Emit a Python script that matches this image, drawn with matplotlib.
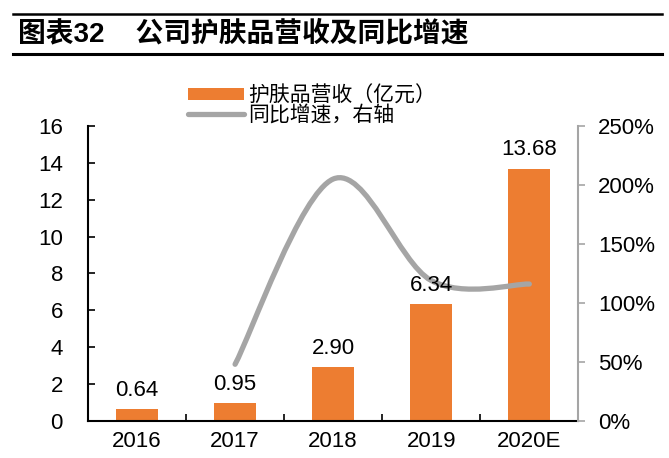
import matplotlib
matplotlib.use("Agg")
import matplotlib.pyplot as plt
from matplotlib.lines import Line2D
from matplotlib.path import Path
from matplotlib.patches import PathPatch, Patch
from matplotlib.ticker import FuncFormatter, FixedLocator
import numpy as np

plt.rcParams['font.family'] = ['Liberation Sans', 'Noto Sans CJK SC']

years = ["2016", "2017", "2018", "2019", "2020E"]
revenue = [0.64, 0.95, 2.90, 6.34, 13.68]
growth = [None, 48, 205, 119, 116]   # %, right axis
bar_labels = ["0.64", "0.95", "2.90", "6.34", "13.68"]

ORANGE = "#ED7D31"
GRAY = "#A5A5A5"

fig = plt.figure(figsize=(6.69, 4.58), dpi=100)
ax = fig.add_axes([0.1315, 0.081, 0.733, 0.644])
ax2 = ax.twinx()

x = np.arange(len(years))
bars = ax.bar(x, revenue, width=0.43, color=ORANGE, zorder=2)

ax.set_xlim(-0.5, len(years) - 0.5)
ax.set_ylim(0, 16)
ax.set_yticks(range(0, 17, 2))
ax.set_xticks(x)
ax.set_xticklabels(years, fontsize=16)
ax.xaxis.set_minor_locator(FixedLocator(np.arange(0.5, len(years) - 1, 1)))
ax.tick_params(axis='x', which='major', length=0, pad=7)
ax.tick_params(axis='x', which='minor', direction='in', length=5, width=1.2)
ax.tick_params(axis='y', direction='in', length=5, width=1.2, pad=18, labelsize=16)
for s in ["top", "right"]:
    ax.spines[s].set_visible(False)
ax.spines["left"].set_linewidth(1.5)
ax.spines["bottom"].set_linewidth(1.5)

ax2.set_ylim(0, 250)
ax2.set_yticks(range(0, 251, 50))
ax2.yaxis.set_major_formatter(FuncFormatter(lambda v, p: f"{v:.0f}%"))
ax2.tick_params(axis='y', direction='out', length=5, width=1.2, pad=9,
                labelsize=16, color=GRAY)
for s in ["top", "left", "bottom"]:
    ax2.spines[s].set_visible(False)
ax2.spines["right"].set_color(GRAY)
ax2.spines["right"].set_linewidth(1.5)

# smoothed growth line (Catmull-Rom style bezier through the data points)
gx = [x[i] for i in range(len(years)) if growth[i] is not None]
gy = [growth[i] for i in range(len(years)) if growth[i] is not None]
pts = np.column_stack([gx, gy]).astype(float)
verts = [tuple(pts[0])]
codes = [Path.MOVETO]
n = len(pts)
for i in range(n - 1):
    p0 = pts[i - 1] if i > 0 else pts[i]
    p1 = pts[i]
    p2 = pts[i + 1]
    p3 = pts[i + 2] if i + 2 < n else pts[i + 1]
    c1 = p1 + (p2 - p0) / 6
    c2 = p2 - (p3 - p1) / 6
    verts += [tuple(c1), tuple(c2), tuple(p2)]
    codes += [Path.CURVE4] * 3
ax2.add_patch(PathPatch(Path(verts, codes), facecolor='none', edgecolor=GRAY,
                        lw=3.8, capstyle='round', zorder=3))

# bar value labels drawn on the top axes so they sit above the line
for xi, v, lab in zip(x, revenue, bar_labels):
    ax2.annotate(lab, xy=(xi, v), xycoords=ax.transData, xytext=(0, 6),
                 textcoords='offset points', ha='center', va='bottom',
                 fontsize=16, zorder=5)

handles = [Patch(facecolor=ORANGE, edgecolor='none'),
           Line2D([], [], color=GRAY, lw=3.8, solid_capstyle='round')]
labels = ["护肤品营收（亿元）", "同比增速，右轴"]
fig.legend(handles, labels, loc='upper left', bbox_to_anchor=(0.268, 0.832),
           frameon=False, fontsize=15, handlelength=2.7, handleheight=0.5,
           handletextpad=0.2, labelspacing=-0.02, borderaxespad=0)

# report-style title with rules
fig.add_artist(Line2D([0.02, 0.99], [0.969, 0.969], color='black', lw=1.8))
fig.add_artist(Line2D([0.02, 0.99], [0.882, 0.882], color='black', lw=2.2))
fig.text(0.027, 0.925, "图表32    公司护肤品营收及同比增速", fontsize=20,
         fontweight='bold', va='center', ha='left')

fig.savefig("out.png", dpi=100)
